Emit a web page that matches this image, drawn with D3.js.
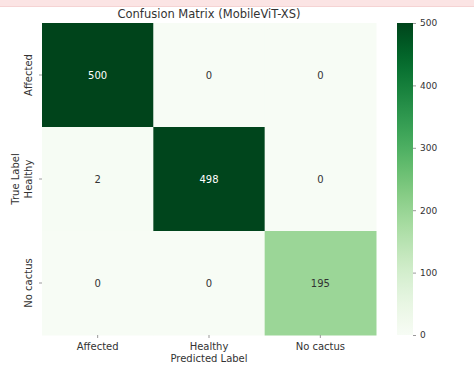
<!DOCTYPE html>
<html><head><meta charset="utf-8">
<script src="https://cdn.jsdelivr.net/npm/d3@7"></script>
<style>body{margin:0;background:#fff}svg{display:block}text{font-family:"DejaVu Sans",sans-serif}</style>
</head><body><svg id="c" width="474" height="370"></svg>
<script>
const trueLabels = ["Affected","Healthy","No cactus"];
const predLabels = ["Affected","Healthy","No cactus"];
const matrix = [
  [500, 0, 0],
  [2, 498, 0],
  [0, 0, 195]
];
const cbTicks = [0,100,200,300,400,500];
const title = "Confusion Matrix (MobileViT-XS)";

const svg = d3.select("#c");
// cropped top strip from the screenshot
svg.append("rect").attr("x",0).attr("y",0).attr("width",474).attr("height",6).attr("fill","#fbe4e4");
svg.append("rect").attr("x",0).attr("y",6).attr("width",474).attr("height",0.8).attr("fill","#f3c9c9");

const L=42,R=376,T=23,B=335;
const x = d3.scaleBand().domain(predLabels).range([L,R]);
const y = d3.scaleBand().domain(trueLabels).range([T,B]);
const color = d3.scaleSequential(d3.interpolateGreens).domain([0,500]);

const cells=[];
matrix.forEach((row,i)=>row.forEach((v,j)=>cells.push({r:trueLabels[i],c:predLabels[j],v})));
svg.append("g").selectAll("rect").data(cells).join("rect")
  .attr("x",d=>x(d.c)).attr("y",d=>y(d.r)).attr("width",x.bandwidth()+0.5).attr("height",y.bandwidth()+0.5)
  .attr("fill",d=>color(d.v));
svg.append("g").selectAll("text").data(cells).join("text")
  .attr("x",d=>x(d.c)+x.bandwidth()/2).attr("y",d=>y(d.r)+y.bandwidth()/2)
  .attr("text-anchor","middle").attr("dominant-baseline","central")
  .attr("font-size",10).attr("fill",d=>d.v>300?"#ffffff":"#333333").text(d=>d.v);

// x axis
const xa = svg.append("g").attr("transform",`translate(0,${B})`).call(d3.axisBottom(x).tickSize(3).tickPadding(5));
xa.select(".domain").remove();
xa.selectAll("line").attr("stroke","#999");
xa.selectAll("text").attr("font-size",10).attr("fill","#333").attr("font-family","DejaVu Sans");
// y axis
const ya = svg.append("g").attr("transform",`translate(${L},0)`).call(d3.axisLeft(y).tickSize(3).tickPadding(3));
ya.select(".domain").remove();
ya.selectAll("line").attr("stroke","#999");
ya.selectAll("text").attr("font-size",10).attr("fill","#333").attr("font-family","DejaVu Sans")
  .attr("text-anchor","middle").attr("dy",0).attr("x",0)
  .attr("transform","translate(-10,0) rotate(-90)");

svg.append("text").attr("x",(L+R)/2).attr("y",362).attr("text-anchor","middle").attr("font-size",10).attr("fill","#333").text("Predicted Label");
svg.append("text").attr("transform",`translate(19,${(T+B)/2}) rotate(-90)`).attr("text-anchor","middle").attr("font-size",10).attr("fill","#333").text("True Label");
svg.append("text").attr("x",(L+R)/2).attr("y",18).attr("text-anchor","middle").attr("font-size",11.5).attr("fill","#333").text(title);

// colorbar
const cbX=397,cbW=16;
const cy = d3.scaleLinear().domain([0,500]).range([B,T]);
const defs=svg.append("defs");
const grad=defs.append("linearGradient").attr("id","g").attr("x1",0).attr("y1",1).attr("x2",0).attr("y2",0);
d3.range(0,1.0001,0.05).forEach(t=>grad.append("stop").attr("offset",t).attr("stop-color",color(t*500)));
svg.append("rect").attr("x",cbX).attr("y",T).attr("width",cbW).attr("height",B-T).attr("fill","url(#g)");
const ca = svg.append("g").attr("transform",`translate(${cbX+cbW},0)`).call(d3.axisRight(cy).tickValues(cbTicks).tickSize(3).tickPadding(4));
ca.select(".domain").remove();
ca.selectAll("line").attr("stroke","#999");
ca.selectAll("text").attr("font-size",9).attr("fill","#333").attr("font-family","DejaVu Sans");
</script></body></html>
